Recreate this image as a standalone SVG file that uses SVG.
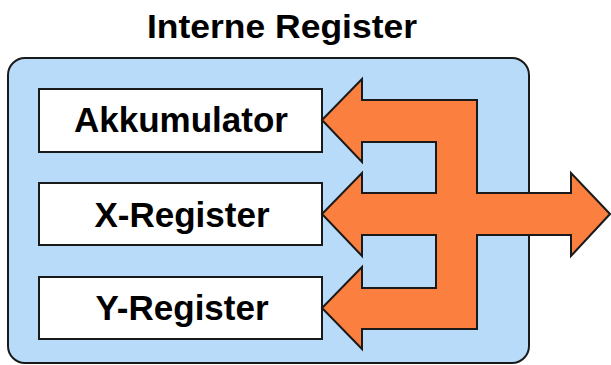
<svg xmlns="http://www.w3.org/2000/svg" width="611" height="365" viewBox="0 0 611 365">
  <style>
    .frame { fill: #b9dbfa; stroke: #1a1a1a; stroke-width: 2; }
    .box { fill: #ffffff; stroke: #1a1a1a; stroke-width: 2; }
    .bus { fill: #fb7f3e; stroke: #1a1a1a; stroke-width: 2; stroke-linejoin: miter; }
    .lbl { font-family: "Liberation Sans", Arial, sans-serif; font-weight: bold; fill: #000; text-anchor: middle; }
  </style>
  <rect width="611" height="365" fill="#ffffff"/>
  <g id="title">
    <text class="lbl" x="282" y="38" font-size="34" textLength="270" lengthAdjust="spacingAndGlyphs">Interne Register</text>
  </g>
  <g id="interne-register">
    <rect class="frame" x="8" y="58" width="521" height="305" rx="17" ry="17"/>
  </g>
  <g id="akkumulator">
    <rect class="box" x="39" y="89" width="283" height="63"/>
    <text class="lbl" x="181" y="132" font-size="35">Akkumulator</text>
  </g>
  <g id="x-register">
    <rect class="box" x="39" y="183" width="283" height="62"/>
    <text class="lbl" x="182" y="227" font-size="35">X-Register</text>
  </g>
  <g id="y-register">
    <rect class="box" x="39" y="277" width="283" height="62"/>
    <text class="lbl" x="182" y="320" font-size="35">Y-Register</text>
  </g>
  <g id="connectors">
    <polygon class="bus" points="322,120 362,79 362,100 477,100 477,193 571,193 571,173 610,214 571,256 571,235 477,235 477,329 362,329 362,349 322,308 362,267 362,288 436,288 436,235 362,235 362,256 322,214 362,173 362,193 436,193 436,142 362,142 362,162"/>
  </g>
</svg>
